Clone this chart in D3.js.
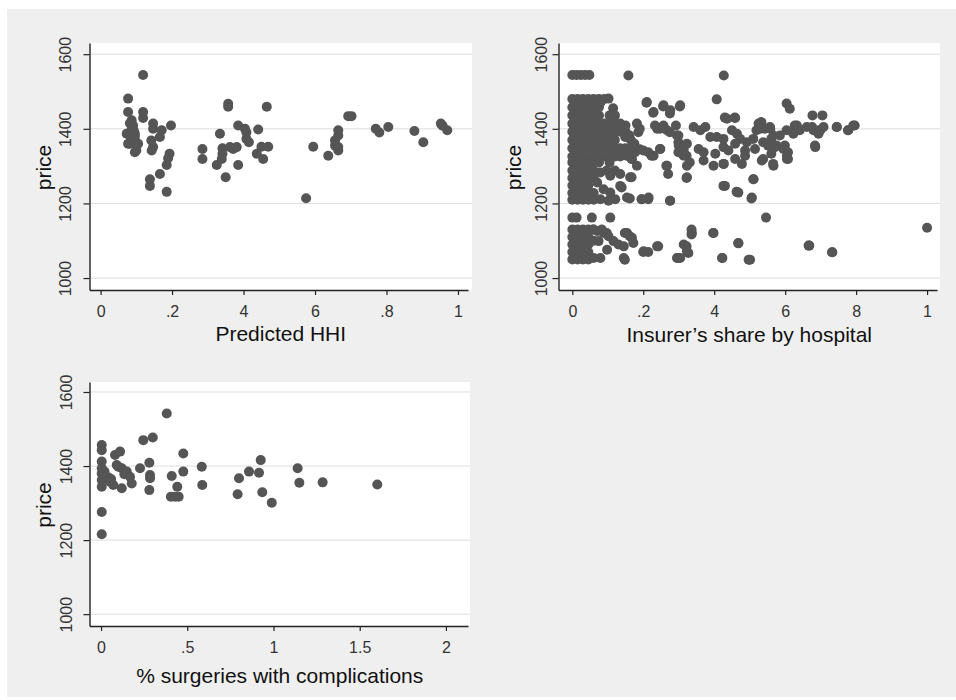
<!DOCTYPE html>
<html>
<head>
<meta charset="utf-8">
<script src="https://cdn.jsdelivr.net/npm/d3@7"></script>
<style>
body { margin: 0; background: #fff; }
text { font-family: "Liberation Sans", Arial, sans-serif; }
</style>
</head>
<body>
<svg width="956" height="700"></svg>
<script>
// ---- data ----
const priceTicks = [1000, 1200, 1400, 1600];

const hhiTicks = [0, 0.2, 0.4, 0.6, 0.8, 1];
const hhiTickLabels = ["0", ".2", "4", "6", ".8", "1"];
const hhiPoints = [
  [0.119,1544],[0.077,1481],[0.077,1445],[0.119,1445],[0.119,1429],[0.087,1423],[0.091,1409],
  [0.073,1387],[0.082,1382],[0.096,1387],[0.091,1369],[0.077,1360],[0.1,1342],[0.105,1360],
  [0.087,1400],[0.096,1378],[0.093,1395],[0.082,1360],[0.096,1337],[0.082,1415],
  [0.147,1414],[0.147,1400],[0.171,1396],[0.166,1378],[0.197,1409],[0.142,1369],[0.147,1351],
  [0.143,1342],[0.193,1333],[0.189,1321],[0.185,1303],[0.166,1279],[0.138,1265],[0.138,1247],[0.185,1231],
  [0.285,1346],[0.285,1319],
  [0.334,1387],[0.341,1348],[0.341,1333],[0.339,1319],[0.325,1303],[0.357,1459],[0.357,1467],
  [0.35,1270],[0.362,1351],[0.381,1351],[0.371,1346],[0.385,1303],[0.385,1409],[0.404,1400],
  [0.408,1391],[0.408,1373],[0.415,1364],[0.441,1398],[0.465,1459],[0.437,1333],[0.455,1319],
  [0.45,1352],[0.469,1352],
  [0.575,1214],[0.595,1352],[0.637,1328],[0.656,1369],[0.665,1396],[0.665,1382],[0.665,1351],
  [0.665,1342],[0.656,1355],[0.693,1434],[0.702,1434],
  [0.77,1400],[0.78,1390],[0.805,1405],[0.878,1394],[0.903,1364],[0.952,1414],[0.957,1408],[0.97,1396]
];

const shareTicks = [0, 0.2, 0.4, 0.6, 0.8, 1];
const shareTickLabels = ["0", ".2", "4", "6", "8", "1"];
const sharePoints = [
  // top row
  [0,1544],[0.012,1544],[0.024,1544],[0.036,1544],[0.048,1544],[0.158,1543],[0.427,1543],
  // dense block near zero
  [0,1480],[0.015,1480],[0.03,1480],[0.045,1480],[0.06,1480],
  [0,1458],[0.015,1458],[0.03,1458],[0.045,1458],[0.06,1458],
  [0,1436],[0.015,1436],[0.03,1436],[0.045,1436],[0.06,1436],
  [0,1414],[0.015,1414],[0.03,1414],[0.045,1414],[0.06,1414],
  [0,1392],[0.015,1392],[0.03,1392],[0.045,1392],[0.06,1392],
  [0,1370],[0.015,1370],[0.03,1370],[0.045,1370],[0.06,1370],
  [0,1348],[0.015,1348],[0.03,1348],[0.045,1348],[0.06,1348],
  [0,1326],[0.015,1326],[0.03,1326],[0.045,1326],[0.06,1326],
  [0,1310],[0.015,1310],[0.03,1310],[0.045,1310],[0.06,1310],
  [0.075,1480],[0.09,1480],[0.102,1481],[0.075,1458],[0.079,1470],[0.075,1414],[0.09,1414],
  [0.075,1392],[0.09,1392],[0.075,1370],[0.09,1370],[0.075,1348],[0.09,1348],[0.075,1326],
  [0.09,1326],[0.075,1310],[0.075,1436],
  [0.105,1436],[0.115,1455],[0.12,1436],[0.105,1414],[0.12,1414],[0.105,1392],[0.12,1392],
  [0.105,1370],[0.12,1370],[0.105,1348],[0.12,1348],[0.105,1326],[0.12,1326],[0.105,1310],
  [0.135,1414],[0.135,1392],[0.135,1348],[0.135,1326],[0.15,1409],[0.15,1392],[0.15,1348],
  [0.155,1330],[0.165,1370],[0.165,1348],[0.13,1409],[0.149,1378],
  // scattered middle
  [0.407,1479],[0.209,1470],[0.256,1460],[0.275,1441],[0.303,1460],[0.228,1443],[0.43,1430],
  [0.458,1430],[0.604,1468],[0.613,1454],[0.677,1436],[0.705,1436],[0.745,1405],[0.777,1396],
  [0.796,1409],[0.684,1355],[0.696,1396],[0.676,1405],[0.627,1409],[0.641,1396],[0.604,1396],
  [0.585,1382],[0.599,1355],[0.608,1337],[0.608,1319],[0.561,1373],[0.552,1355],[0.571,1351],
  [0.561,1333],[0.543,1400],[0.557,1405],[0.529,1414],[0.533,1418],[0.519,1396],[0.538,1364],
  [0.51,1373],[0.566,1306],[0.538,1319],[0.51,1265],[0.505,1213],[0.546,1162],[1.0,1135],
  [0.733,1069],[0.668,1087],[0.468,1093],[0.501,1049],[0.423,1054],[0.397,1121],[0.336,1130],
  [0.336,1117],[0.322,1085],[0.327,1067],[0.297,1054],[0.242,1085],[0.2,1070],[0.214,1070],
  [0.172,1094],[0.148,1121],[0.162,1112],[0.148,1049],[0.43,1247],[0.463,1231],[0.427,1306],
  [0.436,1427],[0.459,1429],[0.342,1405],[0.361,1396],[0.375,1405],[0.389,1378],[0.407,1378],
  [0.426,1373],[0.45,1396],[0.464,1387],[0.525,1414],[0.53,1400],[0.558,1400],[0.567,1382],
  [0.558,1364],[0.576,1355],[0.595,1346],[0.605,1328],[0.633,1409],[0.623,1387],[0.661,1405],
  [0.68,1396],[0.699,1396],[0.708,1405],[0.694,1387],[0.685,1351],[0.746,1405],[0.778,1396],
  [0.792,1409],[0.323,1360],[0.314,1346],[0.356,1346],[0.37,1337],[0.37,1315],[0.398,1301],
  [0.426,1306],[0.403,1333],[0.426,1351],[0.44,1342],[0.459,1360],[0.473,1373],[0.492,1364],
  [0.459,1319],[0.478,1306],[0.487,1342],[0.487,1328],[0.515,1346],[0.534,1315],[0.567,1301],
  [0.605,1319],[0.323,1270],[0.426,1247],[0.511,1265],
  [0.468,1229],[0.506,1216],[0.337,1121],[0.398,1121],[0.314,1090],[0.323,1072],[0.304,1054],
  [0.468,1094],[0.422,1054],[0.497,1049],[0.666,1087],[0.732,1069],
  [0.079,1472],[0.21,1472],[0.229,1445],[0.257,1463],[0.276,1450],[0.304,1463],[0.257,1409],
  [0.267,1396],[0.239,1400],[0.19,1400],[0.182,1414],[0.16,1383],[0.175,1360],[0.19,1345],
  [0.248,1346],[0.229,1328],[0.168,1319],[0.182,1301],[0.267,1301],[0.295,1382],[0.3,1355],
  [0.314,1328],[0.323,1301],
  [0.134,1409],[0.153,1328],[0.167,1319],[0.177,1337],[0.186,1391],[0.2,1342],[0.214,1337],
  [0.223,1328],[0.247,1346],[0.275,1391],[0.265,1301],[0.27,1279],[0.247,1400],[0.233,1409],
  [0.139,1243],[0.167,1270],[0.162,1213],[0.195,1211],[0.214,1211],[0.275,1207],[0.299,1364],
  [0.308,1351],[0.299,1337],[0.322,1328],[0.331,1310],[0.299,1382],[0.292,1409],[0.322,1268],
  // block 1210-1290
  [0,1288],[0.015,1288],[0.03,1288],[0.045,1288],[0.06,1288],
  [0,1268],[0.015,1268],[0.03,1268],[0.045,1268],[0.06,1268],
  [0,1248],[0.015,1248],[0.03,1248],[0.045,1248],
  [0,1228],[0.015,1228],[0.03,1228],[0.045,1228],[0.06,1228],
  [0,1210],[0.015,1210],[0.03,1210],[0.045,1210],[0.06,1210],
  [0.07,1256],[0.088,1238],[0.107,1229],[0.135,1247],[0.163,1270],[0.154,1216],[0.121,1211],
  [0.102,1207],[0.079,1211],[0.196,1211],[0.215,1216],[0.276,1207],[0.079,1283],[0.107,1274],
  [0.135,1279],[0.097,1288],[0.12,1288],
  // row at 1162
  [0,1162],[0.012,1162],[0.055,1162],[0.107,1162],
  // block 1050-1130
  [0,1130],[0.015,1130],[0.03,1130],[0.045,1130],
  [0,1110],[0.015,1110],[0.03,1110],[0.045,1110],
  [0,1090],[0.015,1090],[0.03,1090],[0.045,1090],
  [0,1070],[0.015,1070],[0.03,1070],[0.045,1070],
  [0,1050],[0.015,1050],[0.03,1050],[0.045,1050],
  [0.06,1130],[0.06,1100],[0.06,1054],
  [0.07,1126],[0.088,1121],[0.102,1112],[0.116,1099],[0.13,1090],[0.145,1085],[0.154,1121],
  [0.168,1108],[0.145,1054],[0.201,1072],[0.239,1085],[0.295,1054],[0.079,1054],[0.041,1054],
  [0.098,1076],[0.074,1099],[0.059,1130],[0.083,1130],[0.097,1121]
];

const compTicks = [0, 0.5, 1, 1.5, 2];
const compTickLabels = ["0", ".5", "1", "1.5", "2"];
const compPoints = [
  [0.381,1542],[0.004,1457],[0.004,1443],[0.004,1412],[0.004,1394],[0.004,1380],[0.004,1362],
  [0.004,1344],[0.004,1276],[0.004,1216],[0.033,1367],[0.04,1370],[0.052,1358],[0.071,1349],
  [0.081,1430],[0.11,1439],[0.091,1403],[0.12,1394],[0.149,1385],[0.168,1371],[0.178,1353],
  [0.12,1340],[0.226,1394],[0.245,1470],[0.3,1477],[0.28,1409],[0.284,1376],[0.284,1367],
  [0.28,1335],[0.41,1373],[0.442,1344],[0.405,1317],[0.429,1317],[0.45,1317],[0.477,1434],
  [0.477,1385],[0.584,1398],[0.587,1349],[0.8,1367],[0.792,1324],[0.858,1385],[0.916,1382],
  [0.926,1416],[0.935,1329],[0.99,1301],[1.14,1394],[1.15,1355],[1.285,1356],[1.602,1350],
  [0.1,1398],[0.135,1378],[0.058,1365],[0.02,1385]
];

// ---- layout ----
let svg = d3.select("svg");
svg.append("rect").attr("x", 7).attr("y", 9).attr("width", 949).attr("height", 688).attr("fill", "#efefef");

const panels = [
  {points: hhiPoints, ticks: hhiTicks, labels: hhiTickLabels, title: "Predicted HHI",
   xDomain: [-0.031, 1.028], left: 89.5, axisEnd: 468, right: 472, top: 43, bottom: 290,
   yDomain: [968, 1630], yLabX: -24, priceX: 43, titleY: 51, tickPad: 11},
  {points: sharePoints, ticks: shareTicks, labels: shareTickLabels, title: "Insurer\u2019s share by hospital",
   xDomain: [-0.039, 1.028], left: 558.5, axisEnd: 937, right: 940, top: 43, bottom: 290,
   yDomain: [968, 1630], yLabX: -17, priceX: 513, titleY: 52, tickPad: 11},
  {points: compPoints, ticks: compTicks, labels: compTickLabels, title: "% surgeries with complications",
   xDomain: [-0.067, 2.128], left: 89.5, axisEnd: 468, right: 470, top: 382, bottom: 626,
   yDomain: [968, 1627], yLabX: -23, priceX: 43, titleY: 57, tickPad: 11}
];

panels.forEach((p) => {
  let g = svg.append("g");
  let x = d3.scaleLinear().domain(p.xDomain).range([p.left, p.axisEnd]);
  let y = d3.scaleLinear().domain(p.yDomain).range([p.bottom, p.top]);

  // white plot region
  g.append("rect")
    .attr("x", p.left).attr("y", p.top)
    .attr("width", p.right - p.left).attr("height", p.bottom - p.top)
    .attr("fill", "#fff");

  // gridlines
  g.selectAll(".grid").data(priceTicks).enter().append("line")
    .attr("x1", p.left).attr("x2", p.right)
    .attr("y1", (d) => y(d)).attr("y2", (d) => y(d))
    .attr("stroke", "#dcdcdc").attr("stroke-width", 1);

  // markers
  g.selectAll(".pt").data(p.points).enter().append("circle")
    .attr("cx", (d) => x(d[0]))
    .attr("cy", (d) => y(d[1]))
    .attr("r", 5)
    .attr("fill", "#555");

  // axes
  let yAxis = d3.axisLeft(y).tickValues(priceTicks).tickSize(6).tickSizeOuter(0)
    .tickFormat(d3.format("d"));
  let yg = g.append("g").attr("transform", `translate(${p.left},0)`).call(yAxis);
  yg.selectAll("text")
    .attr("x", null)
    .attr("text-anchor", "middle")
    .attr("transform", `translate(${p.yLabX},0) rotate(-90)`)
    .attr("dy", "0.36em");

  let xAxis = d3.axisBottom(x).tickValues(p.ticks).tickSize(5).tickSizeOuter(0)
    .tickPadding(p.tickPad).tickFormat((d, i) => p.labels[i]);
  let xg = g.append("g").attr("transform", `translate(0,${p.bottom})`).call(xAxis);

  [yg, xg].forEach((a) => {
    a.select(".domain").attr("stroke", "#222").attr("stroke-width", 1.4);
    a.selectAll(".tick line").attr("stroke", "#222").attr("stroke-width", 1.2);
    a.selectAll("text").attr("font-size", 16).attr("fill", "#333")
      .attr("font-family", "'Liberation Sans', Arial, sans-serif");
  });

  // titles
  g.append("text")
    .attr("x", (p.left + p.right) / 2)
    .attr("y", p.bottom + p.titleY)
    .attr("text-anchor", "middle")
    .attr("font-size", 21).attr("fill", "#111")
    .text(p.title);

  g.append("text")
    .attr("transform", `translate(${p.priceX},${(p.top + p.bottom) / 2 + 1}) rotate(-90)`)
    .attr("text-anchor", "middle")
    .attr("dy", "0.36em")
    .attr("font-size", 21).attr("fill", "#111")
    .text("price");
});
</script>
</body>
</html>
